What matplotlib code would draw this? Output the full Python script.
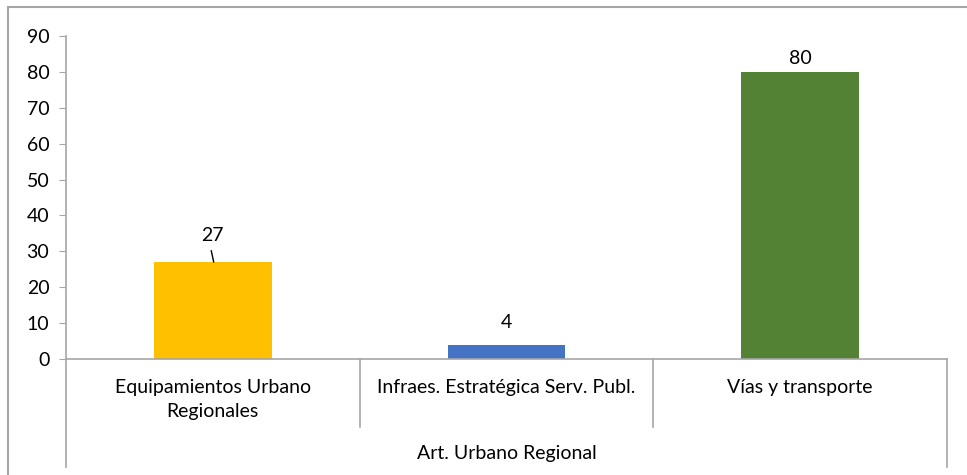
import matplotlib.pyplot as plt
from matplotlib.patches import Rectangle

plt.rcParams['font.family'] = ['Lato', 'DejaVu Sans']

categorias = ["Equipamientos Urbano\nRegionales", "Infraes. Estratégica Serv. Publ.", "Vías y transporte"]
valores = [27, 4, 80]
colores = ["#FFC000", "#4472C4", "#548235"]
grupo = "Art. Urbano Regional"
yticks = [0, 10, 20, 30, 40, 50, 60, 70, 80, 90]

gris = "#A6A6A6"
fs = 14

fig = plt.figure(figsize=(9.67, 4.75), dpi=100)
ax = fig.add_axes([66 / 967, 116 / 475, 881 / 967, 323 / 475])

x = list(range(len(valores)))
ax.bar(x, valores, width=0.4, color=colores, zorder=2)

ax.set_xlim(-0.5, len(valores) - 0.5)
ax.set_ylim(0, 90)
ax.set_yticks(yticks)
ax.tick_params(axis='y', direction='out', length=5, color=gris, labelsize=fs, pad=7)
ax.set_xticks([])

for s in ["top", "right"]:
    ax.spines[s].set_visible(False)
ax.spines["left"].set_color(gris)
ax.spines["bottom"].set_color(gris)
ax.spines["left"].set_linewidth(1.2)
ax.spines["bottom"].set_linewidth(1.2)

# etiquetas de datos
desplaz = [27, 22, 13]
for xi, v, d in zip(x, valores, desplaz):
    ax.annotate(str(v), (xi, v), xytext=(0, d * 0.72), textcoords="offset points",
                ha="center", va="center", fontsize=fs)
# linea guia del 27
ax.annotate("", (x[0] + 0.003, valores[0]), xytext=(-2.5 * 0.72, 11.5 * 0.72), textcoords="offset points",
            arrowprops=dict(arrowstyle="-", color="black", lw=1, shrinkA=0, shrinkB=0))

# ejes de categorias en dos niveles
trans = ax.get_xaxis_transform()
h = ax.get_position().height * 475
for b in [0.5, 1.5]:
    ax.plot([b, b], [0, -68 / h], color=gris, lw=1.2, transform=trans, clip_on=False)
for b in [-0.5, len(valores) - 0.5]:
    ax.plot([b, b], [0, -108 / h], color=gris, lw=1.2, transform=trans, clip_on=False)

for xi, c in zip(x, categorias):
    ax.text(xi, -20 / h, c, transform=trans, ha="center", va="top", fontsize=fs, linespacing=1.5)
ax.text((len(valores) - 1) / 2, -95 / h, grupo, transform=trans, ha="center", va="center", fontsize=fs)

# borde del grafico
fig.patches.append(Rectangle((8 / 967, -0.1), 1.1, 1.1 - 7 / 475, transform=fig.transFigure,
                             fill=False, edgecolor=gris, lw=1.5))

fig.savefig("out.png", dpi=100)
